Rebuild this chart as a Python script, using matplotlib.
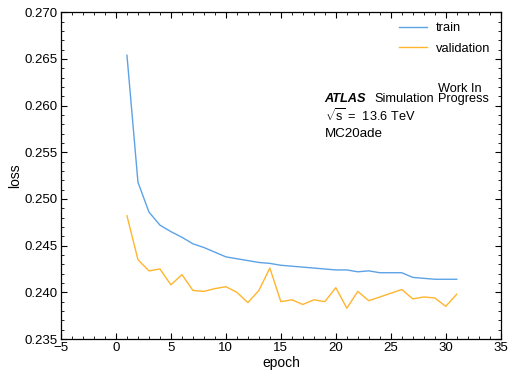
import matplotlib
matplotlib.use("Agg")
import matplotlib.pyplot as plt
from matplotlib.ticker import MultipleLocator

plt.rcParams['font.family'] = ['Liberation Sans', 'DejaVu Sans']
plt.rcParams['mathtext.fontset'] = 'custom'
plt.rcParams['mathtext.rm'] = 'Liberation Sans'
plt.rcParams['mathtext.it'] = 'Liberation Sans:italic'
plt.rcParams['mathtext.bf'] = 'Liberation Sans:bold'

epochs = list(range(1, 32))
train_loss = [0.2654, 0.2518, 0.2486, 0.2472, 0.2465, 0.2459, 0.2452, 0.2448,
              0.2443, 0.2438, 0.2436, 0.2434, 0.2432, 0.2431, 0.2429, 0.2428,
              0.2427, 0.2426, 0.2425, 0.2424, 0.2424, 0.2422, 0.2423, 0.2421,
              0.2421, 0.2421, 0.2416, 0.2415, 0.2414, 0.2414, 0.2414]
val_loss = [0.2482, 0.2435, 0.2423, 0.2425, 0.2408, 0.2419, 0.2402, 0.2401,
            0.2404, 0.2406, 0.2400, 0.2389, 0.2402, 0.2426, 0.2390, 0.2392,
            0.2387, 0.2392, 0.2390, 0.2405, 0.2383, 0.2401, 0.2391, 0.2395,
            0.2399, 0.2403, 0.2393, 0.2395, 0.2394, 0.2385, 0.2398]

W, H = 509, 371
fig = plt.figure(figsize=(W / 100, H / 100), dpi=100)
left, right, top, bottom = 61, 500.7, 12.3, 339
ax = fig.add_axes([left / W, 1 - bottom / H, (right - left) / W, (bottom - top) / H])

ax.plot(epochs, train_loss, color='#5ca3e6', lw=1.0, label='train')
ax.plot(epochs, val_loss, color='#ffb52e', lw=1.0, label='validation')

ax.set_xlim(-5, 35)
ax.set_ylim(0.235, 0.270)
ax.xaxis.set_major_locator(MultipleLocator(5))
ax.xaxis.set_minor_locator(MultipleLocator(1))
ax.yaxis.set_major_locator(MultipleLocator(0.005))
ax.yaxis.set_minor_locator(MultipleLocator(0.001))
ax.yaxis.set_major_formatter(matplotlib.ticker.FormatStrFormatter('%.3f'))
ax.tick_params(which='both', direction='in', top=True, right=True, labelsize=9.5, pad=2.5)
ax.tick_params(which='major', length=4.5, width=0.8)
ax.tick_params(which='minor', length=2.2, width=0.6)
for s in ax.spines.values():
    s.set_linewidth(0.9)
ax.set_xlabel('epoch', fontsize=10, labelpad=1)
ax.set_ylabel('loss', fontsize=10, labelpad=1.5)

def px(x, y):
    return ((x - left) / (right - left), (bottom - y) / (bottom - top))

ax.legend(frameon=False, loc='upper right', fontsize=9.3, handlelength=2.1,
          handletextpad=0.7, borderaxespad=0, borderpad=0,
          bbox_to_anchor=px(490, 22), labelspacing=0.68)

fs = 9.2
ax.text(*px(324, 102.3), 'ATLAS', transform=ax.transAxes, fontsize=fs,
        fontweight='bold', fontstyle='italic', ha='left', va='baseline')
ax.text(*px(374, 102.3), 'Simulation', transform=ax.transAxes, fontsize=fs,
        ha='left', va='baseline')
ax.text(*px(438, 102.3), 'Progress', transform=ax.transAxes, fontsize=fs,
        ha='left', va='baseline')
ax.text(*px(438, 91.7), 'Work In', transform=ax.transAxes, fontsize=fs,
        ha='left', va='baseline')
ax.text(*px(325, 121), r'$\sqrt{\mathrm{s}}$ =  13.6 TeV', transform=ax.transAxes,
        fontsize=fs, ha='left', va='baseline')
ax.text(*px(325, 137), 'MC20ade', transform=ax.transAxes, fontsize=9.6,
        ha='left', va='baseline')

fig.savefig('out.png', dpi=100)
